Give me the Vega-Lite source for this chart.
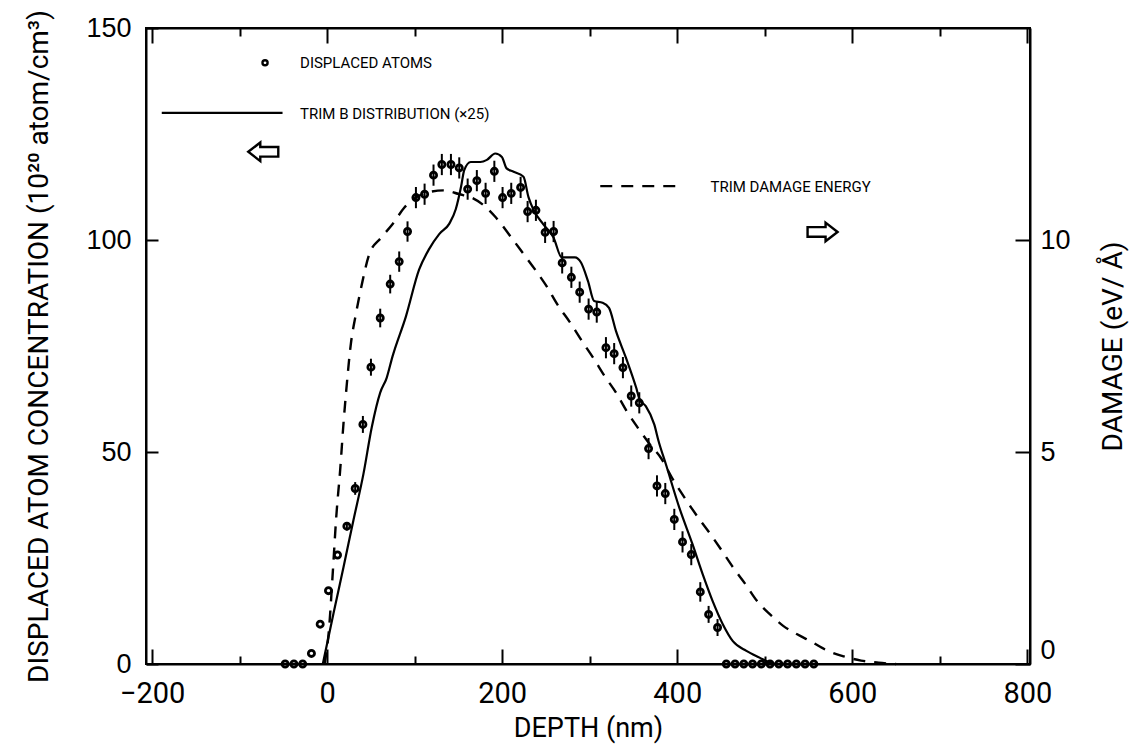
{
  "$schema": "https://vega.github.io/schema/vega-lite/v6.json",
  "width": 884,
  "height": 636,
  "autosize": "none",
  "padding": {"left": 146, "top": 28, "right": 102, "bottom": 92},
  "background": "white",
  "config": {
    "view": {"stroke": "black", "strokeWidth": 2},
    "axis": {
      "grid": false,
      "domainColor": "black",
      "domainWidth": 2,
      "tickColor": "black",
      "tickWidth": 2,
      "labelColor": "black",
      "titleColor": "black",
      "labelFlush": false,
      "labelOverlap": false,
      "titleFontWeight": "normal"
    }
  },
  "datasets": {
    "atoms": [
      {"depth": -48, "conc": 0, "err": 0},
      {"depth": -38, "conc": 0, "err": 0},
      {"depth": -28, "conc": 0, "err": 0},
      {"depth": -18, "conc": 2.5, "err": 0},
      {"depth": -8, "conc": 9.4, "err": 0},
      {"depth": 1.5, "conc": 17.3, "err": 0},
      {"depth": 11.8, "conc": 25.7, "err": 0},
      {"depth": 22.5, "conc": 32.5, "err": 1},
      {"depth": 32, "conc": 41.4, "err": 1.5},
      {"depth": 40.8, "conc": 56.5, "err": 2},
      {"depth": 50, "conc": 70, "err": 2},
      {"depth": 60.6, "conc": 81.6, "err": 2.2},
      {"depth": 72, "conc": 89.6, "err": 2.2},
      {"depth": 82.3, "conc": 94.9, "err": 2.4},
      {"depth": 91.8, "conc": 102, "err": 2.4},
      {"depth": 101.4, "conc": 110, "err": 2.5},
      {"depth": 111.3, "conc": 110.8, "err": 2.5},
      {"depth": 121.5, "conc": 115.3, "err": 2.5},
      {"depth": 131, "conc": 117.8, "err": 2.5},
      {"depth": 141.4, "conc": 117.8, "err": 2.5},
      {"depth": 150.9, "conc": 117, "err": 2.5},
      {"depth": 160.5, "conc": 112, "err": 2.5},
      {"depth": 171, "conc": 114, "err": 2.5},
      {"depth": 181, "conc": 111, "err": 2.5},
      {"depth": 191, "conc": 116.2, "err": 2.5},
      {"depth": 200.4, "conc": 110, "err": 2.5},
      {"depth": 210.3, "conc": 111, "err": 2.5},
      {"depth": 221, "conc": 112.4, "err": 2.5},
      {"depth": 229, "conc": 106.7, "err": 2.5},
      {"depth": 238.5, "conc": 107, "err": 2.5},
      {"depth": 249, "conc": 101.8, "err": 2.5},
      {"depth": 258.7, "conc": 102, "err": 2.5},
      {"depth": 268.5, "conc": 94.6, "err": 2.5},
      {"depth": 279, "conc": 91.2, "err": 2.5},
      {"depth": 288.5, "conc": 87.7, "err": 2.5},
      {"depth": 298.7, "conc": 83.7, "err": 2.5},
      {"depth": 308, "conc": 83, "err": 2.5},
      {"depth": 318.5, "conc": 74.6, "err": 2.5},
      {"depth": 327.9, "conc": 73.2, "err": 2.5},
      {"depth": 337.9, "conc": 69.9, "err": 2.5},
      {"depth": 347.4, "conc": 63.2, "err": 2.5},
      {"depth": 356.6, "conc": 61.6, "err": 2.5},
      {"depth": 367.2, "conc": 50.8, "err": 2.5},
      {"depth": 376.8, "conc": 42, "err": 2.5},
      {"depth": 386.3, "conc": 40.2, "err": 2.5},
      {"depth": 396.6, "conc": 34.1, "err": 2.5},
      {"depth": 406, "conc": 28.8, "err": 2.5},
      {"depth": 416, "conc": 25.8, "err": 2.5},
      {"depth": 426.3, "conc": 17, "err": 2.3},
      {"depth": 435.8, "conc": 11.7, "err": 2},
      {"depth": 446, "conc": 8.6, "err": 2},
      {"depth": 456, "conc": 0, "err": 0},
      {"depth": 466, "conc": 0, "err": 0},
      {"depth": 476, "conc": 0, "err": 0},
      {"depth": 486, "conc": 0, "err": 0},
      {"depth": 496, "conc": 0, "err": 0},
      {"depth": 506, "conc": 0, "err": 0},
      {"depth": 516, "conc": 0, "err": 0},
      {"depth": 526, "conc": 0, "err": 0},
      {"depth": 536, "conc": 0, "err": 0},
      {"depth": 546, "conc": 0, "err": 0},
      {"depth": 556, "conc": 0, "err": 0}
    ],
    "trimb": [
      {"depth": -5, "conc": 0}, {"depth": 7.2, "conc": 11.9}, {"depth": 18.7, "conc": 22.9},
      {"depth": 30, "conc": 33.9}, {"depth": 41.5, "conc": 44.9}, {"depth": 51, "conc": 55.9},
      {"depth": 60.6, "conc": 64}, {"depth": 68, "conc": 67.5}, {"depth": 74.6, "conc": 72.5},
      {"depth": 90, "conc": 82}, {"depth": 105, "conc": 93}, {"depth": 116.6, "conc": 97.9},
      {"depth": 128, "conc": 101.4}, {"depth": 139.4, "conc": 103.8}, {"depth": 147, "conc": 107.3},
      {"depth": 153, "conc": 112.6}, {"depth": 156.6, "conc": 116.5}, {"depth": 164, "conc": 118.4},
      {"depth": 175, "conc": 118.4}, {"depth": 182.5, "conc": 118.9}, {"depth": 192, "conc": 120.4},
      {"depth": 199.6, "conc": 119.6}, {"depth": 205, "conc": 116.9}, {"depth": 213, "conc": 116.1},
      {"depth": 224.3, "conc": 114.9}, {"depth": 230, "conc": 110.1}, {"depth": 236, "conc": 107},
      {"depth": 247, "conc": 103.7}, {"depth": 258.6, "conc": 100.6}, {"depth": 268, "conc": 95.9},
      {"depth": 276, "conc": 95.9}, {"depth": 283, "conc": 95.9}, {"depth": 290, "conc": 94.7},
      {"depth": 298, "conc": 90.3}, {"depth": 305, "conc": 85.6}, {"depth": 314.6, "conc": 85.2},
      {"depth": 322, "conc": 84}, {"depth": 330, "conc": 78.5}, {"depth": 341.4, "conc": 72.2},
      {"depth": 353, "conc": 65.2}, {"depth": 357, "conc": 62.4}, {"depth": 364, "conc": 60.8},
      {"depth": 373.7, "conc": 56.5}, {"depth": 378.6, "conc": 52.6}, {"depth": 387, "conc": 47.1},
      {"depth": 402.3, "conc": 36.9}, {"depth": 417.5, "conc": 28.2}, {"depth": 429, "conc": 21.2},
      {"depth": 440.3, "conc": 14.9}, {"depth": 452, "conc": 9.4}, {"depth": 463.5, "conc": 5.4},
      {"depth": 479, "conc": 3.1}, {"depth": 494, "conc": 1.5}, {"depth": 506, "conc": 0.3},
      {"depth": 514, "conc": 0}
    ],
    "damage": [
      {"depth": -3, "dmg": 0}, {"depth": 2, "dmg": 0.8}, {"depth": 6.5, "dmg": 2.19},
      {"depth": 10.3, "dmg": 3.45}, {"depth": 14.9, "dmg": 4.59}, {"depth": 18.7, "dmg": 5.69},
      {"depth": 22, "dmg": 6.5}, {"depth": 27, "dmg": 7.54}, {"depth": 32.8, "dmg": 8.25},
      {"depth": 40.4, "dmg": 9.03}, {"depth": 48, "dmg": 9.66}, {"depth": 61.4, "dmg": 10.05},
      {"depth": 74.6, "dmg": 10.37}, {"depth": 88, "dmg": 10.76}, {"depth": 101.4, "dmg": 11.0},
      {"depth": 114.6, "dmg": 11.12}, {"depth": 133, "dmg": 11.17}, {"depth": 151, "dmg": 11.08},
      {"depth": 165, "dmg": 11.0}, {"depth": 177.5, "dmg": 10.84}, {"depth": 192.8, "dmg": 10.53},
      {"depth": 210, "dmg": 10.07}, {"depth": 224, "dmg": 9.68}, {"depth": 238, "dmg": 9.29},
      {"depth": 251, "dmg": 8.9}, {"depth": 263, "dmg": 8.48}, {"depth": 277, "dmg": 8.07},
      {"depth": 291, "dmg": 7.62}, {"depth": 304, "dmg": 7.22}, {"depth": 317, "dmg": 6.79},
      {"depth": 330, "dmg": 6.4}, {"depth": 342, "dmg": 5.97}, {"depth": 355, "dmg": 5.57},
      {"depth": 368, "dmg": 5.2}, {"depth": 381, "dmg": 4.87}, {"depth": 396, "dmg": 4.32},
      {"depth": 411, "dmg": 3.84}, {"depth": 424, "dmg": 3.45}, {"depth": 438, "dmg": 3.06},
      {"depth": 451, "dmg": 2.67}, {"depth": 464, "dmg": 2.27}, {"depth": 478, "dmg": 1.88},
      {"depth": 491, "dmg": 1.49}, {"depth": 506, "dmg": 1.17}, {"depth": 521, "dmg": 0.9},
      {"depth": 537, "dmg": 0.7}, {"depth": 552, "dmg": 0.54}, {"depth": 570, "dmg": 0.33},
      {"depth": 590, "dmg": 0.18}, {"depth": 610, "dmg": 0.08}, {"depth": 630, "dmg": 0.03},
      {"depth": 650, "dmg": 0}
    ],
    "legendLines": [
      {"series": "trimb", "depth": -189, "conc": 130},
      {"series": "trimb", "depth": -51, "conc": 130},
      {"series": "damage", "depth": 312, "conc": 112.7},
      {"series": "damage", "depth": 405, "conc": 112.7}
    ],
    "legendLabels": [
      {"label": "DISPLACED ATOMS", "depth": -31, "conc": 141.8},
      {"label": "TRIM B DISTRIBUTION (×25)", "depth": -31, "conc": 129.8},
      {"label": "TRIM DAMAGE ENERGY", "depth": 438, "conc": 112.6}
    ],
    "legendSymbol": [
      {"depth": -71, "conc": 141.8}
    ],
    "arrows": [
      {"dir": "left", "depth": -73, "conc": 120.8},
      {"dir": "right", "depth": 566, "conc": 101.9}
    ]
  },
  "layer": [
    {
      "layer": [
        {
          "data": {"name": "trimb"},
          "mark": {"type": "line", "color": "black", "strokeWidth": 2.2, "interpolate": "monotone"},
          "encoding": {
            "x": {
              "field": "depth", "type": "quantitative",
              "title": "DEPTH (nm)",
              "scale": {"domain": [-207, 803], "nice": false, "zero": false},
              "axis": {
                "orient": "bottom",
                "values": [-200, -100, 0, 100, 200, 300, 400, 500, 600, 700, 800],
                "labelExpr": "datum.value % 200 === 0 ? datum.label : ''",
                "tickSize": {"condition": {"test": "datum.value % 200 === 0", "value": -15}, "value": -8},
                "labelPadding": 30,
                "labelFontSize": 29,
                "labelFont": "Roboto, sans-serif",
                "titleFontSize": 27,
                "titleFont": "Roboto, sans-serif",
                "titlePadding": 0
              }
            },
            "y": {
              "field": "conc", "type": "quantitative",
              "title": "DISPLACED ATOM CONCENTRATION (10²⁰ atom/cm³)",
              "scale": {"domain": [0, 150], "nice": false},
              "axis": {
                "orient": "left",
                "values": [0, 50, 100, 150],
                "tickSize": -12,
                "labelPadding": 27,
                "labelFontSize": 27,
                "labelFont": "Liberation Sans, Arial, sans-serif",
                "titleFontSize": 28,
                "titleFont": "Roboto, sans-serif",
                "titlePadding": 32
              }
            }
          }
        },
        {
          "data": {"name": "atoms"},
          "mark": {"type": "errorbar", "color": "black", "thickness": 2},
          "encoding": {
            "x": {"field": "depth", "type": "quantitative", "title": "DEPTH (nm)"},
            "y": {"field": "conc", "type": "quantitative", "title": "DISPLACED ATOM CONCENTRATION (10²⁰ atom/cm³)"},
            "yError": {"field": "err"}
          }
        },
        {
          "data": {"name": "atoms"},
          "mark": {"type": "point", "shape": "circle", "filled": false, "color": "black", "strokeWidth": 2.8, "size": 38, "opacity": 1},
          "encoding": {
            "x": {"field": "depth", "type": "quantitative", "title": "DEPTH (nm)"},
            "y": {"field": "conc", "type": "quantitative", "title": "DISPLACED ATOM CONCENTRATION (10²⁰ atom/cm³)"}
          }
        },
        {
          "data": {"name": "legendLines"},
          "mark": {"type": "line", "color": "black", "strokeWidth": 2.2},
          "encoding": {
            "x": {"field": "depth", "type": "quantitative", "title": "DEPTH (nm)"},
            "y": {"field": "conc", "type": "quantitative", "title": "DISPLACED ATOM CONCENTRATION (10²⁰ atom/cm³)"},
            "detail": {"field": "series"},
            "strokeDash": {
              "field": "series", "type": "nominal",
              "scale": {"domain": ["trimb", "damage"], "range": [[1, 0], [12, 9]]},
              "legend": null
            }
          }
        },
        {
          "data": {"name": "legendSymbol"},
          "mark": {"type": "point", "shape": "circle", "filled": false, "color": "black", "strokeWidth": 2.4, "size": 26, "opacity": 1},
          "encoding": {
            "x": {"field": "depth", "type": "quantitative", "title": "DEPTH (nm)"},
            "y": {"field": "conc", "type": "quantitative", "title": "DISPLACED ATOM CONCENTRATION (10²⁰ atom/cm³)"}
          }
        },
        {
          "data": {"name": "legendLabels"},
          "mark": {"type": "text", "align": "left", "baseline": "middle", "fontSize": 15, "font": "Roboto, sans-serif", "color": "black"},
          "encoding": {
            "x": {"field": "depth", "type": "quantitative", "title": "DEPTH (nm)"},
            "y": {"field": "conc", "type": "quantitative", "title": "DISPLACED ATOM CONCENTRATION (10²⁰ atom/cm³)"},
            "text": {"field": "label"}
          }
        },
        {
          "data": {"name": "arrows"},
          "mark": {"type": "point", "filled": false, "color": "black", "strokeWidth": 2.4, "size": 900, "opacity": 1},
          "encoding": {
            "x": {"field": "depth", "type": "quantitative", "title": "DEPTH (nm)"},
            "y": {"field": "conc", "type": "quantitative", "title": "DISPLACED ATOM CONCENTRATION (10²⁰ atom/cm³)"},
            "shape": {
              "field": "dir", "type": "nominal",
              "scale": {
                "domain": ["left", "right"],
                "range": [
                  "M -1 0 L -0.2 -0.62 L -0.2 -0.32 L 1 -0.32 L 1 0.32 L -0.2 0.32 L -0.2 0.62 Z",
                  "M 1 0 L 0.2 -0.62 L 0.2 -0.32 L -1 -0.32 L -1 0.32 L 0.2 0.32 L 0.2 0.62 Z"
                ]
              },
              "legend": null
            }
          }
        }
      ]
    },
    {
      "data": {"name": "damage"},
      "mark": {"type": "line", "color": "black", "strokeWidth": 2.4, "strokeDash": [12, 9], "interpolate": "monotone"},
      "encoding": {
        "x": {
          "field": "depth", "type": "quantitative",
          "scale": {"domain": [-207, 803], "nice": false, "zero": false},
          "axis": {
            "orient": "top",
            "values": [-200, -100, 0, 100, 200, 300, 400, 500, 600, 700, 800],
            "labels": false,
            "tickSize": {"condition": {"test": "datum.value % 200 === 0", "value": -15}, "value": -8},
            "title": null
          }
        },
        "y": {
          "field": "dmg", "type": "quantitative",
          "title": "DAMAGE (eV/ Å)",
          "scale": {"domain": [0, 15], "nice": false},
          "axis": {
            "orient": "right",
            "values": [0, 5, 10],
            "tickSize": -15,
            "labelPadding": 25,
            "labelFontSize": 27,
            "labelFont": "Liberation Sans, Arial, sans-serif",
            "labelBaseline": {"condition": {"test": "datum.value === 0", "value": "bottom"}, "value": "middle"},
            "titleAngle": -90,
            "titleFontSize": 28,
            "titleFont": "Roboto, sans-serif",
            "titlePadding": 57
          }
        }
      }
    }
  ],
  "resolve": {"scale": {"x": "independent", "y": "independent"}}
}
